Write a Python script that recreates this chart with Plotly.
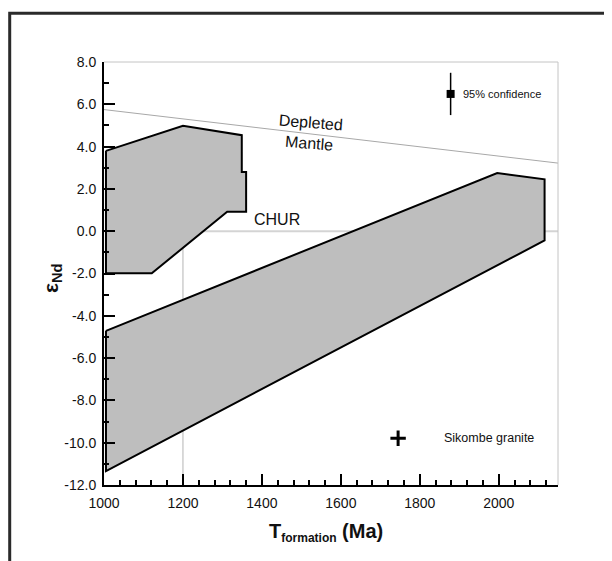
import plotly.graph_objects as go

# ---- data ----
upper_field_x = [1005, 1200, 1349, 1349, 1360, 1360, 1312, 1121, 1005, 1005]
upper_field_y = [3.80, 4.98, 4.54, 2.80, 2.80, 0.92, 0.92, -1.99, -1.99, 3.80]
lower_field_x = [1005, 1996, 2116, 2116, 1005, 1005]
lower_field_y = [-4.71, 2.75, 2.45, -0.44, -11.34, -4.71]
depleted_mantle_x = [1000, 2150]
depleted_mantle_y = [5.75, 3.22]
chur_x = [1000, 2150]
chur_y = [0, 0]
ref_x = [1200, 1200]
ref_y = [-12, 0]
confidence_x = [1878]
confidence_y = [6.49]
confidence_err = [1.0]
sikombe_x = [1745]
sikombe_y = [-9.79]
x_ticks = [1000, 1200, 1400, 1600, 1800, 2000]
y_ticks = [-12, -10, -8, -6, -4, -2, 0, 2, 4, 6, 8]
y_tick_text = ["-12.0", "-10.0", "-8.0", "-6.0", "-4.0", "-2.0", "0.0", "2.0", "4.0", "6.0", "8.0"]

FONT = "Liberation Sans, Arial, sans-serif"

fig = go.Figure()
fig.add_trace(go.Scatter(x=chur_x, y=chur_y, mode="lines",
                         line=dict(color="#d4d4d4", width=2), hoverinfo="skip"))
fig.add_trace(go.Scatter(x=ref_x, y=ref_y, mode="lines",
                         line=dict(color="#b4b4b4", width=1), hoverinfo="skip"))
fig.add_trace(go.Scatter(x=depleted_mantle_x, y=depleted_mantle_y, mode="lines",
                         line=dict(color="#a8a8a8", width=1), hoverinfo="skip"))
fig.add_trace(go.Scatter(x=upper_field_x, y=upper_field_y, mode="lines", fill="toself",
                         fillcolor="#bebebe", line=dict(color="black", width=2)))
fig.add_trace(go.Scatter(x=lower_field_x, y=lower_field_y, mode="lines", fill="toself",
                         fillcolor="#bebebe", line=dict(color="black", width=2)))
fig.add_trace(go.Scatter(x=confidence_x, y=confidence_y, mode="markers",
                         marker=dict(symbol="square", size=8, color="black"),
                         error_y=dict(type="data", array=confidence_err, visible=True,
                                      thickness=1.5, width=0, color="black")))
fig.add_trace(go.Scatter(x=sikombe_x, y=sikombe_y, mode="markers",
                         marker=dict(symbol="cross-thin", size=11,
                                     line=dict(color="black", width=3))))

ann = []
ann.append(dict(x=1522, y=4.65, xref="x", yref="y", text="Depleted<br>Mantle",
                showarrow=False, textangle=4.5, font=dict(family=FONT, size=16, color="#111")))
ann.append(dict(x=1438, y=0.55, xref="x", yref="y", text="CHUR",
                showarrow=False, font=dict(family=FONT, size=16, color="#111")))
ann.append(dict(x=1905, y=6.49, xref="x", yref="y", text="95% confidence", xanchor="left",
                showarrow=False, font=dict(family=FONT, size=11, color="#111")))
ann.append(dict(x=1857, y=-9.79, xref="x", yref="y", text="Sikombe granite", xanchor="left",
                showarrow=False, font=dict(family=FONT, size=12.5, color="#111")))
ann.append(dict(x=0.488, y=-0.146, xref="paper", yref="paper",
                text="<b>T<sub><span style=\"font-size:12px\">formation</span></sub> (Ma)</b>",
                showarrow=False, font=dict(family=FONT, size=20, color="#111")))
ann.append(dict(x=-0.149, y=0.49, xref="paper", yref="paper",
                text="<b>ε<sub>Nd</sub></b>", showarrow=False, textangle=-90,
                font=dict(family=FONT, size=21, color="#111")))

shapes = [
    dict(type="line", xref="paper", yref="paper", x0=0, x1=1, y0=1, y1=1,
         line=dict(color="#c4c4c4", width=1)),
    dict(type="line", xref="paper", yref="paper", x0=1, x1=1, y0=0, y1=1,
         line=dict(color="#c4c4c4", width=1)),
    dict(type="rect", xref="paper", yref="paper", x0=-0.2077, x1=1.2, y0=-0.3, y1=1.115,
         line=dict(color="#2a2a2a", width=3)),
]

fig.update_layout(
    width=612, height=561,
    margin=dict(l=96, r=62, t=54, b=84),
    plot_bgcolor="white", paper_bgcolor="white",
    showlegend=False,
    annotations=ann, shapes=shapes,
    font=dict(family=FONT, size=14, color="#111"),
)
fig.update_xaxes(range=[1000, 2150], tickvals=x_ticks, ticks="inside", ticklen=11,
                 tickwidth=1.5, tickcolor="black", showline=True, linecolor="black",
                 linewidth=2, showgrid=False, zeroline=False,
                 tickfont=dict(family=FONT, size=14, color="#111"),
                 minor=dict(dtick=40, ticks="inside", ticklen=5, tickwidth=1.5,
                            tickcolor="black", showgrid=False),
                 ticklabelstandoff=4)
fig.update_yaxes(range=[-12, 8], tickvals=y_ticks, ticktext=y_tick_text, ticks="inside",
                 ticklen=11, tickwidth=1.5, tickcolor="black", showline=True,
                 linecolor="black", linewidth=2, showgrid=False, zeroline=False,
                 tickfont=dict(family=FONT, size=14, color="#111"),
                 minor=dict(dtick=1, ticks="inside", ticklen=5, tickwidth=1.5,
                            tickcolor="black", showgrid=False),
                 ticklabelstandoff=3)

fig.write_html("out.html")
